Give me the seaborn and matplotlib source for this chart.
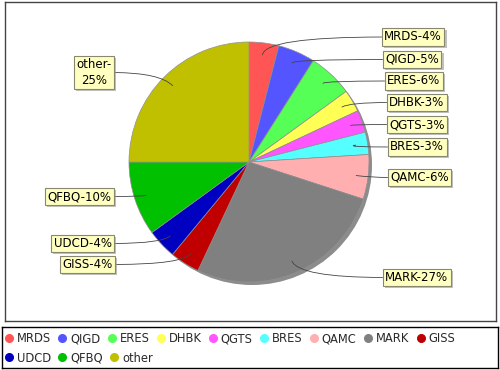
import matplotlib
matplotlib.use("Agg")
import numpy as np
import matplotlib.pyplot as plt
import seaborn as sns
from matplotlib.lines import Line2D
from matplotlib.patches import Circle
import matplotlib.patheffects as pe

# =============================
# data
# =============================
names = ['MRDS', 'QIGD', 'ERES', 'DHBK', 'QGTS', 'BRES', 'QAMC',
         'MARK', 'GISS', 'UDCD', 'QFBQ', 'other']
pcts = [4, 5, 6, 3, 3, 3, 6, 27, 4, 4, 10, 25]
colors = ['#FF5555', '#5555FF', '#55FF55', '#FFFF55', '#FF55FF', '#55FFFF',
          '#FFAFAF', '#808080', '#C00000', '#0000C0', '#00C000', '#C0C000']

# label boxes (image pixel coords): edge x next to pie, centre y
label_edge_x = [382, 383, 385, 387, 387, 388, 388, 383, 115, 114, 114, 114]
label_y = [37, 59.5, 81, 102.5, 124.5, 147, 177.5, 277.5, 264.5, 243.5, 196.5, 72.5]

sns.set_style("white")
plt.rcParams['font.family'] = ['DejaVu Sans']

W, H = 500, 370
fig = plt.figure(figsize=(5, 3.7), dpi=100)

def iy(y):
    return H - y

# plot area in pixel units
ax = fig.add_axes([5 / W, (H - 321) / H, 491 / W, 319 / H])
cx, cy, r = 249, iy(162), 120

ax.add_patch(Circle((cx + 3, cy - 3), r, color='#8c8c8c', zorder=0, lw=0))
wedges, _ = ax.pie(pcts, colors=colors, startangle=90, counterclock=False,
                   center=(cx, cy), radius=r,
                   wedgeprops=dict(edgecolor='#909090', linewidth=0.5))
ax.set_xlim(5, 496)
ax.set_ylim(iy(321), iy(2))
ax.set_aspect('auto')
ax.set_frame_on(True)
for s in ax.spines.values():
    s.set_color('#444444')
    s.set_linewidth(1)
ax.set_xticks([])
ax.set_yticks([])

fs = 8.5
pad_px = 0.2 * fs * 100 / 72
for i, w in enumerate(wedges):
    mid = np.deg2rad((w.theta1 + w.theta2) / 2)
    ax_pt = (cx + 0.9 * r * np.cos(mid), cy + 0.9 * r * np.sin(mid))
    right = np.cos(mid) > 0
    if names[i] == 'other':
        txt = f"{names[i]}-\n{pcts[i]}%"
    else:
        txt = f"{names[i]}-{pcts[i]}%"
    if right:
        tx, ha, rel = label_edge_x[i] + pad_px, 'left', (0, 0.5)
    else:
        tx, ha, rel = label_edge_x[i] - pad_px, 'right', (1, 0.5)
    ty = iy(label_y[i])
    ang = np.rad2deg(mid)
    an = ax.annotate(txt, xy=ax_pt, xytext=(tx, ty), ha=ha, va='center',
                     multialignment='center', fontsize=fs, color='black',
                     bbox=dict(boxstyle='square,pad=0.2', fc='#FFFFC0',
                               ec='#888870', lw=0.8),
                     arrowprops=dict(arrowstyle='-', color='#444444', lw=0.6,
                                     shrinkA=0, shrinkB=0, relpos=rel,
                                     connectionstyle=f"angle3,angleA=0,angleB={ang:.2f}"))
    an.get_bbox_patch().set_path_effects(
        [pe.withSimplePatchShadow(offset=(1.5, -1.5), shadow_rgbFace='#999999', alpha=0.6)])

# legend box
lax = fig.add_axes([2 / W, (H - 368) / H, 496 / W, 41 / H])
lax.set_xticks([])
lax.set_yticks([])
for s in lax.spines.values():
    s.set_color('black')
    s.set_linewidth(1)

handles = [Line2D([], [], marker='o', ls='', markersize=5.5, color=c,
                  markeredgecolor=c) for c in colors]
lfs = 8.3
hl = 0.6
x0 = (9 - 2 - hl * lfs * 100 / 72 / 2) / 496
rows = [(slice(0, 9), (368 - 339) / 41), (slice(9, 12), (368 - 358) / 41)]
legs = []
for sl, yy in rows:
    hs = handles[sl]
    leg = lax.legend(hs, names[sl], ncol=len(hs), loc='center left',
                     bbox_to_anchor=(x0, yy), frameon=False,
                     fontsize=lfs, handlelength=hl, handletextpad=0.37,
                     columnspacing=0.7, borderaxespad=0, borderpad=0)
    for t in leg.get_texts():
        t.set_color('#2a2a2a')
    legs.append(leg)
# the last legend stays as lax.legend_, earlier ones need adding back
for leg in legs[:-1]:
    lax.add_artist(leg)

fig.savefig('out.png', dpi=100)
